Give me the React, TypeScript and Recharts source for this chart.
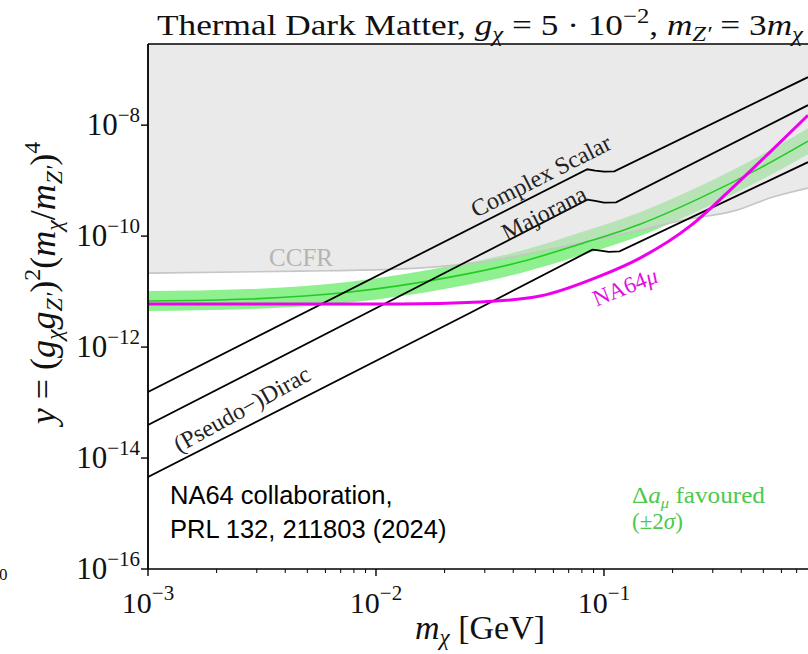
import React from 'react';
import { ComposedChart, Area, Line, XAxis, YAxis, ReferenceLine } from 'recharts';

// axis ranges (the right edge of the original plot is cropped at ~0.78 GeV)
const X_MIN = 1e-3;
const X_MAX = 0.785;
const Y_MIN = 1e-16;
const Y_MAX = 2.9e-7;

const xMajorTicks = [1e-3, 1e-2, 1e-1];
const xMinorTicks = [
  2e-3, 3e-3, 4e-3, 5e-3, 6e-3, 7e-3, 8e-3, 9e-3,
  2e-2, 3e-2, 4e-2, 5e-2, 6e-2, 7e-2, 8e-2, 9e-2,
  2e-1, 3e-1, 4e-1, 5e-1, 6e-1, 7e-1,
];
const yTicks = [1e-16, 1e-14, 1e-12, 1e-10, 1e-8];

// thermal targets
const scalarMass = [1e-3, 0.0845, 0.0915, 0.1, 0.111, 0.785];
const scalarY = [1.55e-13, 1.6e-9, 1.52e-9, 1.45e-9, 1.47e-9, 7.33e-8];

const majoranaMass = [1e-3, 0.02582, 0.0845, 0.0915, 0.1, 0.113, 0.785];
const majoranaY = [3.94e-14, 3.7e-11, 4.55e-10, 4.3e-10, 4.0e-10, 4.05e-10, 2.29e-8];

const diracMass = [1e-3, 0.02582, 0.089, 0.0965, 0.105, 0.117, 0.785];
const diracY = [4.55e-15, 4.1e-12, 5.7e-11, 5.45e-11, 5.2e-11, 5.3e-11, 2.15e-9];

// g-2 favoured band
const g2Mass = [1e-3, 0.0028, 0.00769, 0.02113, 0.04285, 0.0785, 0.1439, 0.2636, 0.4831, 0.785];
const g2Center = [6.75e-12, 7.33e-12, 9.8e-12, 1.82e-11, 3.4e-11, 7.18e-11, 1.64e-10, 4.84e-10, 1.68e-9, 5.15e-9];
const g2Low = [4.46e-12, 4.84e-12, 6.34e-12, 1.16e-11, 2.15e-11, 4.46e-11, 1.0e-10, 2.94e-10, 1.0e-9, 3.0e-9];
const g2High = [1.02e-11, 1.11e-11, 1.51e-11, 2.88e-11, 5.37e-11, 1.16e-10, 2.7e-10, 7.96e-10, 2.82e-9, 8.83e-9];

// NA64mu limit
const na64Mass = [1e-3, 0.01274, 0.02857, 0.0524, 0.0959, 0.1439, 0.2383, 0.3573, 0.535, 0.785];
const na64Y = [5.96e-12, 5.96e-12, 6.46e-12, 8.3e-12, 1.9e-11, 4.02e-11, 1.51e-10, 6.75e-10, 3.27e-9, 1.51e-8];

// CCFR excluded region (lower edge)
const ccfrMass = [1e-3, 0.00465, 0.01247, 0.02857, 0.0785, 0.1439, 0.2218, 0.383, 0.551, 0.785];
const ccfrY = [2.15e-11, 2.34e-11, 2.54e-11, 3.4e-11, 7.48e-11, 1.28e-10, 1.94e-10, 2.94e-10, 5.05e-10, 7.33e-10];

const SERIF = '"Liberation Serif", "DejaVu Serif", serif';
const SANS = '"Liberation Sans", Arial, sans-serif';

const toPoints = (xs: number[], ys: number[]) => xs.map((m, i) => ({ m, y: ys[i] }));

const scalarData = toPoints(scalarMass, scalarY);
const majoranaData = toPoints(majoranaMass, majoranaY);
const diracData = toPoints(diracMass, diracY);
const g2LineData = toPoints(g2Mass, g2Center);
const g2BandData = g2Mass.map((m, i) => ({ m, band: [g2Low[i], g2High[i]] }));
const na64Data = toPoints(na64Mass, na64Y);
const ccfrLineData = toPoints(ccfrMass, ccfrY);
const ccfrAreaData = ccfrMass.map((m, i) => ({ m, band: [ccfrY[i], Y_MAX] }));

const isMajor = (v: number) => Math.abs(Math.log10(v) - Math.round(Math.log10(v))) < 1e-6;

const XTick = (props: any) => {
  const { x, y, payload } = props;
  const v = payload.value;
  const major = isMajor(v);
  const exp = Math.round(Math.log10(v));
  return (
    <g>
      <line x1={x} x2={x} y1={y} y2={y + (major ? 7 : 4)} stroke="#000" strokeWidth={major ? 1.4 : 1} />
      {major && (
        <text x={x} y={y + 44} textAnchor="middle" fontFamily={SERIF} fontSize={30} fill="#111">
          10<tspan dy={-13} fontSize={21}>{'\u2212' + -exp}</tspan>
        </text>
      )}
    </g>
  );
};

const YTick = (props: any) => {
  const { x, y, payload } = props;
  const exp = Math.round(Math.log10(payload.value));
  return (
    <g>
      <line x1={x} x2={x - 7} y1={y} y2={y} stroke="#000" strokeWidth={1.4} />
      <text x={x - 8} y={y + 10} textAnchor="end" fontFamily={SERIF} fontSize={31} fill="#111">
        10<tspan dy={-13} fontSize={21}>{'\u2212' + -exp}</tspan>
      </text>
    </g>
  );
};

const Rotated = ({ cx, cy, angle, children, ...rest }: any) => (
  <text
    x={cx}
    y={cy}
    textAnchor="middle"
    dominantBaseline="central"
    transform={`rotate(${angle} ${cx} ${cy})`}
    {...rest}
  >
    {children}
  </text>
);

const Overlay = () => (
  <svg width={808} height={654} style={{ position: 'absolute', left: 0, top: 0, pointerEvents: 'none' }}>
    {/* title */}
    <text x={157} y={35} fontFamily={SERIF} fontSize={30} fill="#111" textLength={646} lengthAdjust="spacingAndGlyphs">
      {'Thermal Dark Matter, '}
      <tspan fontStyle="italic">g</tspan>
      <tspan fontStyle="italic" fontSize={21} dy={6}>χ</tspan>
      <tspan dy={-6}>{' = 5 · 10'}</tspan>
      <tspan fontSize={21} dy={-12}>−2</tspan>
      <tspan dy={12}>{', '}</tspan>
      <tspan fontStyle="italic">m</tspan>
      <tspan fontStyle="italic" fontSize={21} dy={6}>Z′</tspan>
      <tspan dy={-6}>{' = 3'}</tspan>
      <tspan fontStyle="italic">m</tspan>
      <tspan fontStyle="italic" fontSize={21} dy={6}>χ</tspan>
    </text>

    {/* y axis label */}
    <text
      x={-283}
      y={55}
      transform="rotate(-90)"
      textAnchor="middle"
      fontFamily={SERIF}
      fontSize={36}
      fill="#111"
    >
      <tspan fontStyle="italic">y</tspan>
      {' = ('}
      <tspan fontStyle="italic">g</tspan>
      <tspan fontStyle="italic" fontSize={24} dy={7}>χ</tspan>
      <tspan fontStyle="italic" dy={-7}>g</tspan>
      <tspan fontStyle="italic" fontSize={24} dy={7}>Z′</tspan>
      <tspan dy={-7}>)</tspan>
      <tspan fontSize={24} dy={-15}>2</tspan>
      <tspan dy={15}>(</tspan>
      <tspan fontStyle="italic">m</tspan>
      <tspan fontStyle="italic" fontSize={24} dy={7}>χ</tspan>
      <tspan dy={-7}>/</tspan>
      <tspan fontStyle="italic">m</tspan>
      <tspan fontStyle="italic" fontSize={24} dy={7}>Z′</tspan>
      <tspan dy={-7}>)</tspan>
      <tspan fontSize={24} dy={-15}>4</tspan>
    </text>

    {/* x axis label */}
    <text x={480} y={639} textAnchor="middle" fontFamily={SERIF} fontSize={34} fill="#111">
      <tspan fontStyle="italic">m</tspan>
      <tspan fontStyle="italic" fontSize={23} dy={6}>χ</tspan>
      <tspan dy={-6}>{' [GeV]'}</tspan>
    </text>

    {/* curve annotations */}
    <text x={301} y={266} textAnchor="middle" fontFamily={SERIF} fontSize={25} fill="#b4b4b4">CCFR</text>
    <Rotated cx={541} cy={176} angle={-27} fontFamily={SERIF} fontSize={24} fill="#222">Complex Scalar</Rotated>
    <Rotated cx={544} cy={213} angle={-27} fontFamily={SERIF} fontSize={24} fill="#222">Majorana</Rotated>
    <Rotated cx={242} cy={409} angle={-29} fontFamily={SERIF} fontSize={24} fill="#222">(Pseudo−)Dirac</Rotated>
    <Rotated cx={625} cy={287} angle={-22} fontFamily={SERIF} fontSize={23} fill="#e010e0">
      NA64<tspan fontStyle="italic">μ</tspan>
    </Rotated>

    <text x={632} y={503} fontFamily={SERIF} fontSize={23} fill="#4cc94c" textLength={133} lengthAdjust="spacingAndGlyphs">
      Δ<tspan fontStyle="italic">a</tspan>
      <tspan fontStyle="italic" fontSize={15} dy={5}>μ</tspan>
      <tspan dy={-5}>{' favoured'}</tspan>
    </text>
    <text x={632} y={529} fontFamily={SERIF} fontSize={23} fill="#4cc94c">
      (±2<tspan fontStyle="italic">σ</tspan>)
    </text>

    <text x={170} y={504} fontFamily={SANS} fontSize={25.5} fill="#000">NA64 collaboration,</text>
    <text x={170} y={538} fontFamily={SANS} fontSize={25.5} fill="#000">PRL 132, 211803 (2024)</text>

    {/* cut-off label from the neighbouring panel */}
    <text x={-1} y={580} fontFamily={SERIF} fontSize={17} fill="#111">0</text>
  </svg>
);

export default function App() {
  return (
    <div style={{ position: 'absolute', left: 0, top: 0, width: 808, height: 654, background: '#fff' }}>
      <ComposedChart width={808} height={654} margin={{ top: 44, right: 0, bottom: 0, left: 0 }}>
        <XAxis
          type="number"
          dataKey="m"
          scale="log"
          domain={[X_MIN, X_MAX]}
          allowDataOverflow
          ticks={[...xMajorTicks, ...xMinorTicks]}
          interval={0}
          tick={<XTick />}
          tickLine={false}
          tickSize={0}
          tickMargin={0}
          height={85}
          axisLine={{ stroke: '#000', strokeWidth: 1.4 }}
        />
        <YAxis
          type="number"
          dataKey="y"
          scale="log"
          domain={[Y_MIN, Y_MAX]}
          allowDataOverflow
          ticks={yTicks}
          interval={0}
          tick={<YTick />}
          tickLine={false}
          tickSize={0}
          tickMargin={0}
          width={148}
          axisLine={{ stroke: '#000', strokeWidth: 1.4 }}
        />

        <Area
          data={g2BandData}
          dataKey="band"
          type="monotone"
          fill="#8ef08e"
          fillOpacity={1}
          stroke="none"
          isAnimationActive={false}
        />
        <Area
          data={ccfrAreaData}
          dataKey="band"
          type="monotone"
          fill="#d9d9d9"
          fillOpacity={0.55}
          stroke="none"
          isAnimationActive={false}
        />
        <Line data={ccfrLineData} dataKey="y" type="monotone" stroke="#c6c6c6" strokeWidth={1.6} dot={false} isAnimationActive={false} />
        <Line data={g2LineData} dataKey="y" type="monotone" stroke="#22cc22" strokeWidth={1.6} dot={false} isAnimationActive={false} />

        <Line data={scalarData} dataKey="y" type="linear" stroke="#000" strokeWidth={1.8} dot={false} isAnimationActive={false} />
        <Line data={majoranaData} dataKey="y" type="linear" stroke="#000" strokeWidth={1.8} dot={false} isAnimationActive={false} />
        <Line data={diracData} dataKey="y" type="linear" stroke="#000" strokeWidth={1.8} dot={false} isAnimationActive={false} />

        <Line data={na64Data} dataKey="y" type="monotone" stroke="#ee00ee" strokeWidth={3} dot={false} isAnimationActive={false} />

        <ReferenceLine y={Y_MAX} stroke="#000" strokeWidth={1.6} />
        <ReferenceLine x={X_MIN} stroke="#000" strokeWidth={1.4} />
      </ComposedChart>
      <Overlay />
    </div>
  );
}
